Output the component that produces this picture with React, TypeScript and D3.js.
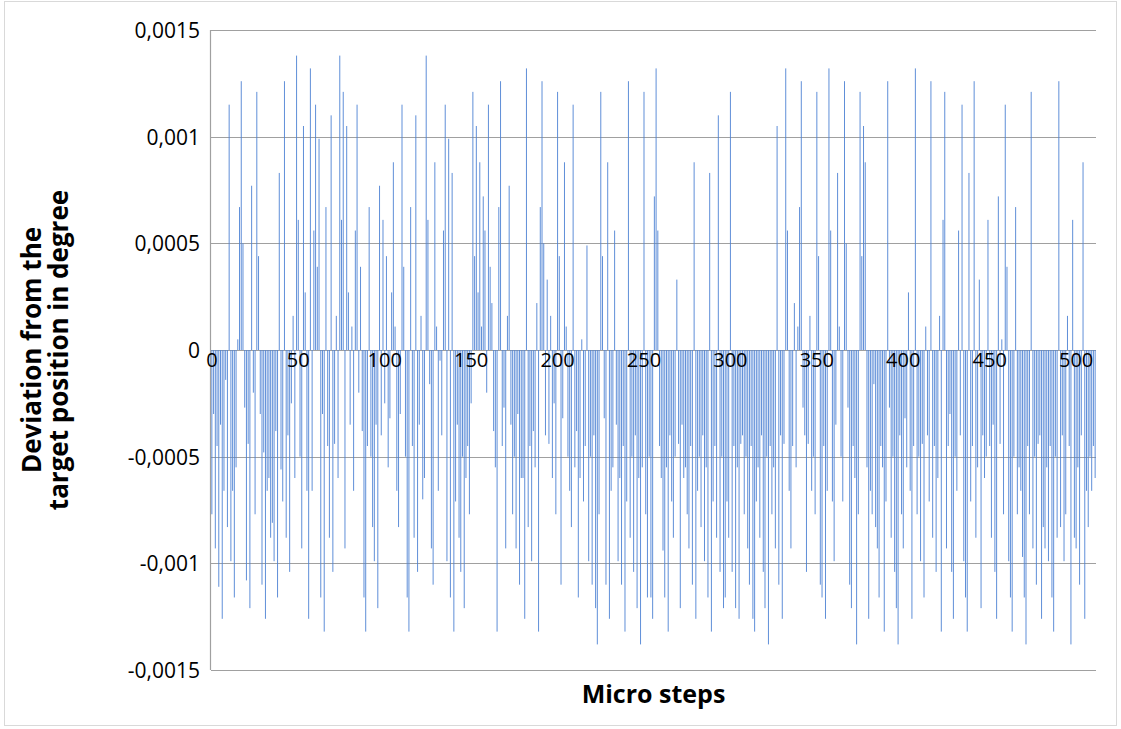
import React from "react";
import * as d3 from "d3";

// Deviation per micro step, in units of 1e-5 degree
const deviationE5: number[] = [
  -77,-30,-93,-45,-111,-35,-126,-66,-14,-83,115,-99,-66,-116,-55,5,
  67,126,50,-27,-108,-44,-121,77,-20,-77,121,44,-30,-110,-48,-126,
  -66,-60,-88,-81,-99,-38,-116,83,-56,-71,126,-88,-40,-104,-25,16,
  -60,138,61,-50,-93,105,27,-66,-126,132,-66,56,115,39,99,-116,
  -30,-132,67,-45,-88,110,-104,-44,16,-60,138,61,121,-93,105,27,
  -35,11,-66,56,115,-20,39,-38,-116,-132,-45,67,-50,-83,-99,-35,
  -121,77,-40,61,-25,44,-55,-32,27,88,11,-66,-83,-30,115,39,
  -50,-116,-132,67,-45,-88,110,-104,-35,16,-70,-60,138,61,-16,-93,
  -110,88,11,-66,-5,-40,56,115,-99,99,-116,83,-132,-71,-35,-88,
  -104,-50,-121,-60,-45,-77,-25,121,44,105,27,88,11,72,56,-20,
  115,39,22,-38,-55,-132,67,126,-45,-27,-93,16,77,-35,-77,-50,
  -93,-30,-110,-60,-60,-126,132,-83,-45,-99,-38,-55,22,-132,67,126,
  50,-40,33,-44,16,-60,-25,-77,121,44,-110,-32,88,11,-50,-66,
  -83,115,-55,-38,-116,-60,5,-71,-45,49,-99,-50,-110,-40,-121,-138,
  -77,121,44,-32,-110,88,-126,-66,-55,56,-35,-99,-60,-110,-45,-132,
  -71,126,-88,-50,-104,-40,-121,-60,-138,-55,121,-77,-116,-50,-116,-126,
  72,132,56,-45,-60,-94,-116,-55,-132,-40,-71,-88,-50,33,-44,-121,
  -35,-60,-55,-77,-93,-45,-110,88,-126,-66,-50,-83,-40,-99,-55,-116,
  83,-132,-71,-45,-88,110,-104,-50,-121,-116,-71,-88,121,-104,-45,-121,
  -55,-126,-44,-40,-77,-50,-93,-110,-45,-126,-132,-71,-55,-88,-40,-104,
  -121,-50,-138,-45,-77,-55,-93,105,-110,-40,-126,-44,132,56,-66,-93,
  -45,22,-55,11,67,126,-27,-40,-104,-44,16,-66,-50,-77,121,44,
  -110,-116,-45,-126,-66,132,56,-71,-99,-35,83,11,-50,-71,126,50,
  -27,-110,-121,-45,-60,-138,-77,121,44,105,88,-55,-126,-66,-77,-16,
  -83,-93,-116,-45,-55,-132,-71,126,-27,-88,-50,-104,-121,-138,-40,-77,
  -93,-32,-55,27,-66,-126,-45,132,-77,-50,-99,-44,-116,11,-40,-71,
  126,-88,-45,-104,-60,16,-132,61,121,-93,-45,-30,-104,-126,-50,-66,
  56,-40,115,-99,-116,-132,83,-71,-45,126,-88,-55,33,-121,-40,-60,
  -50,61,-45,-88,-35,-104,-126,72,-44,5,-77,115,39,-99,-116,-132,
  -50,67,-77,-55,-66,-97,-116,-138,-45,-77,121,-93,-50,-110,-44,-40,
  -126,-83,-93,-55,-99,-45,-116,-132,-50,-88,126,-83,-40,-99,-77,16,
  -45,-138,61,-88,-93,-55,-110,-40,88,-126,-66,-83,-50,-66,-45,-60,
];

const yTicks: number[] = [0.0015, 0.001, 0.0005, 0, -0.0005, -0.001, -0.0015];
const yTickLabels: string[] = ["0,0015", "0,001", "0,0005", "0", "-0,0005", "-0,001", "-0,0015"];
const xTickSteps: number[] = [0, 50, 100, 150, 200, 250, 300, 350, 400, 450, 500];
const xTitle = "Micro steps";
const yTitleLines: string[] = ["Deviation from the", "target position in degree"];

const W = 1121;
const H = 729;
const left = 211;
const right = 1096;
const top = 30;
const bottom = 670;

export default function App() {
  const steps = deviationE5.map((_, i) => i);
  const xc = d3.scaleBand<number>().domain(steps).range([left, right]);
  const y = d3.scaleLinear().domain([-0.0015, 0.0015]).range([bottom, top]);
  const y0 = y(0);
  const barW = 1.0;
  const font = "'Open Sans', 'Liberation Sans', sans-serif";

  return (
    <svg width={W} height={H} style={{ position: "absolute", left: 0, top: 0, background: "#fff" }}>
      <rect x={4.5} y={1.5} width={1112} height={724} fill="#fff" stroke="#d9d9d9" />
      {yTicks.map((t) => (
        <line key={"g" + t} x1={left} x2={right} y1={Math.round(y(t)) + 0.5} y2={Math.round(y(t)) + 0.5} stroke="#a0a0a0" strokeWidth={1.2} />
      ))}
      <line x1={left - 0.5} x2={left - 0.5} y1={top} y2={bottom} stroke="#a0a0a0" strokeWidth={1.2} />
      <g>
        {deviationE5.map((v, i) => {
          const val = v * 1e-5;
          const yy = y(val);
          return (
            <rect
              key={i}
              x={(xc(i) ?? 0) + (xc.bandwidth() - barW) / 2}
              y={Math.min(yy, y0)}
              width={barW}
              height={Math.abs(yy - y0)}
              fill="#4f83d4"
              fillOpacity={0.9}
            />
          );
        })}
      </g>
      {yTicks.map((t, i) => (
        <text key={"yt" + t} x={200} y={y(t)} textAnchor="end" dominantBaseline="central" fontFamily={font} fontSize={21} fill="#000">
          {yTickLabels[i]}
        </text>
      ))}
      {xTickSteps.map((s) => (
        <text key={"xt" + s} x={(xc(s) ?? 0) + xc.bandwidth() / 2} y={y0 + 9} textAnchor="middle" dominantBaseline="central" fontFamily={font} fontSize={20} fill="#000">
          {s}
        </text>
      ))}
      <text x={(left + right) / 2} y={693} textAnchor="middle" dominantBaseline="central" fontFamily={font} fontSize={25} fontWeight="bold" fill="#000">
        {xTitle}
      </text>
      <g transform={`translate(44, ${(top + bottom) / 2}) rotate(-90)`}>
        {yTitleLines.map((ln, i) => (
          <text key={ln} x={0} y={(i - 0.5) * 27} textAnchor="middle" dominantBaseline="central" fontFamily={font} fontSize={26} fontWeight="bold" fill="#000">
            {ln}
          </text>
        ))}
      </g>
    </svg>
  );
}
